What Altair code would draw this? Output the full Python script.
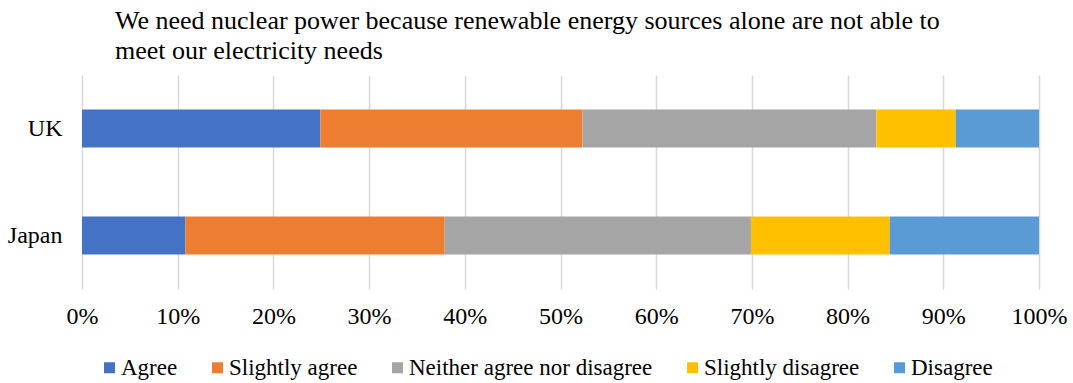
import altair as alt
import pandas as pd

# Survey responses (% of respondents), by country
countries = ["UK", "Japan"]
responses = ["Agree", "Slightly agree", "Neither agree nor disagree",
             "Slightly disagree", "Disagree"]
uk_values = [24.9, 27.4, 30.7, 8.3, 8.7]
japan_values = [10.8, 27.1, 32.0, 14.5, 15.6]
colors = ["#4472C4", "#ED7D31", "#A5A5A5", "#FFC000", "#5B9BD5"]

rows = []
for country, vals in zip(countries, [uk_values, japan_values]):
    for i, (resp, v) in enumerate(zip(responses, vals)):
        rows.append({"country": country, "response": resp, "order": i, "share": v / 100})
df = pd.DataFrame(rows)

FONT = "'Liberation Serif', 'Times New Roman', serif"

chart = alt.Chart(df).mark_bar().encode(
    x=alt.X("share:Q", stack="normalize",
            scale=alt.Scale(domain=[0, 1], nice=False),
            axis=alt.Axis(format="%", values=[i / 10 for i in range(11)], title=None,
                          domain=False, ticks=False, grid=True, labelFlush=False,
                          gridColor="#D9D9D9", gridWidth=1.5,
                          labelFont=FONT, labelFontSize=24, labelColor="#000000",
                          labelPadding=15)),
    y=alt.Y("country:N", sort=countries, title=None,
            scale=alt.Scale(paddingInner=0.645, paddingOuter=0.3225),
            axis=alt.Axis(domain=False, ticks=False, grid=False,
                          labelFont=FONT, labelFontSize=24, labelColor="#000000",
                          labelPadding=20)),
    color=alt.Color("response:N", sort=responses,
                    scale=alt.Scale(domain=responses, range=colors),
                    legend=alt.Legend(title=None, orient="none", direction="horizontal",
                                      columns=5, legendX=16, legendY=281,
                                      symbolType="square", symbolSize=121,
                                      symbolStrokeWidth=0, labelFont=FONT,
                                      labelFontSize=23, labelColor="#000000",
                                      labelLimit=400,
                                      labelOffset=0, columnPadding=28, padding=0)),
    order=alt.Order("order:Q"),
).properties(
    width=957,
    height=214,
    title=alt.TitleParams(
        text=["We need nuclear power because renewable energy sources alone are not able to",
              "meet our electricity needs"],
        font=FONT, fontSize=26, fontWeight="normal", color="#000000",
        anchor="start", frame="group", dx=33, offset=11, lineHeight=30,
    ),
    padding={"left": 82, "top": 75, "right": 34, "bottom": 94},
    autosize=alt.AutoSizeParams(type="none"),
).configure_view(stroke=None)

chart.save("out.html", embed_options={"renderer": "svg", "actions": False})
